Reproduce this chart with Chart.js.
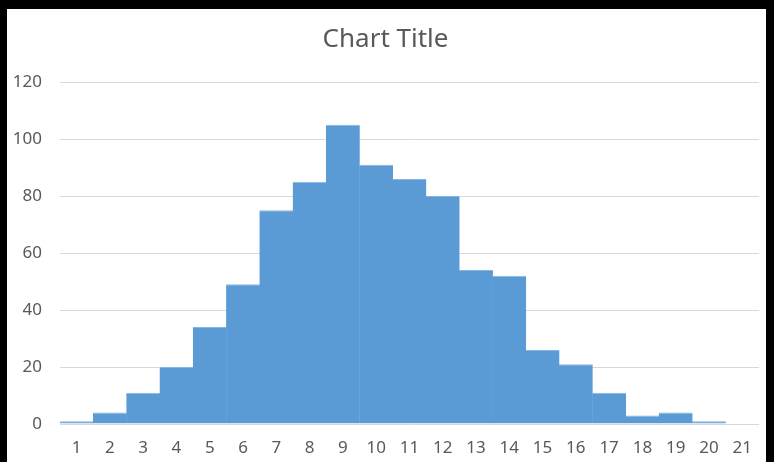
<!DOCTYPE html>
<html>
<head>
<meta charset="utf-8">
<script src="https://cdn.jsdelivr.net/npm/chart.js@4.4.1/dist/chart.umd.min.js"></script>
<style>
  html, body { margin: 0; padding: 0; background: #000; }
  body { width: 774px; height: 462px; position: relative; overflow: hidden; }
  #frame { position: absolute; left: 7px; top: 9px; width: 759px; height: 453px; background: #fff; }
  #chart { display: block; }
</style>
</head>
<body>
<div id="frame"><canvas id="chart" width="759" height="453"></canvas></div>
<script>
// Histogram bins and their counts
const categories = ['1','2','3','4','5','6','7','8','9','10','11','12','13','14','15','16','17','18','19','20','21'];
const counts = [1, 4, 11, 20, 34, 49, 75, 85, 105, 91, 86, 80, 54, 52, 26, 21, 11, 3, 4, 1, 0];
const yTicks = [0, 20, 40, 60, 80, 100, 120];
const titleText = 'Chart Title';

const textColor = '#595959';
const gridColor = '#d9d9d9';
const barColor = '#5b9bd5';
const fontFamily = '"Noto Sans", "DejaVu Sans", sans-serif';

new Chart(document.getElementById('chart'), {
  type: 'bar',
  data: {
    labels: categories,
    datasets: [{
      data: counts,
      backgroundColor: barColor,
      borderColor: '#86b5e2',
      borderWidth: { top: 1, left: 0, right: 0, bottom: 0 },
      borderSkipped: 'bottom',
      // slight overlap so adjacent bins join without seams
      barPercentage: 1.02,
      categoryPercentage: 1
    }]
  },
  options: {
    responsive: false,
    animation: false,
    devicePixelRatio: 1,
    layout: { padding: { left: 0, right: 2, top: 0, bottom: 0 } },
    plugins: {
      legend: { display: false },
      tooltip: { enabled: false },
      title: {
        display: true,
        text: titleText,
        color: textColor,
        font: { family: fontFamily, size: 26, weight: 'normal' },
        padding: { top: 15, bottom: 26.8 }
      }
    },
    scales: {
      x: {
        grid: { display: false, drawTicks: false },
        border: { display: true, color: gridColor, width: 1 },
        ticks: {
          color: textColor,
          font: { family: fontFamily, size: 17 },
          padding: 14,
          maxRotation: 0,
          autoSkip: false
        },
        afterFit(scale) { scale.height = 38; }
      },
      y: {
        min: yTicks[0],
        max: yTicks[yTicks.length - 1],
        afterBuildTicks(scale) { scale.ticks = yTicks.map(v => ({ value: v })); },
        grid: { color: gridColor, lineWidth: 1, drawTicks: false },
        border: { display: false },
        ticks: {
          color: textColor,
          font: { family: fontFamily, size: 17 },
          padding: 18
        },
        afterFit(scale) { scale.width = 53; }
      }
    }
  }
});
</script>
</body>
</html>
